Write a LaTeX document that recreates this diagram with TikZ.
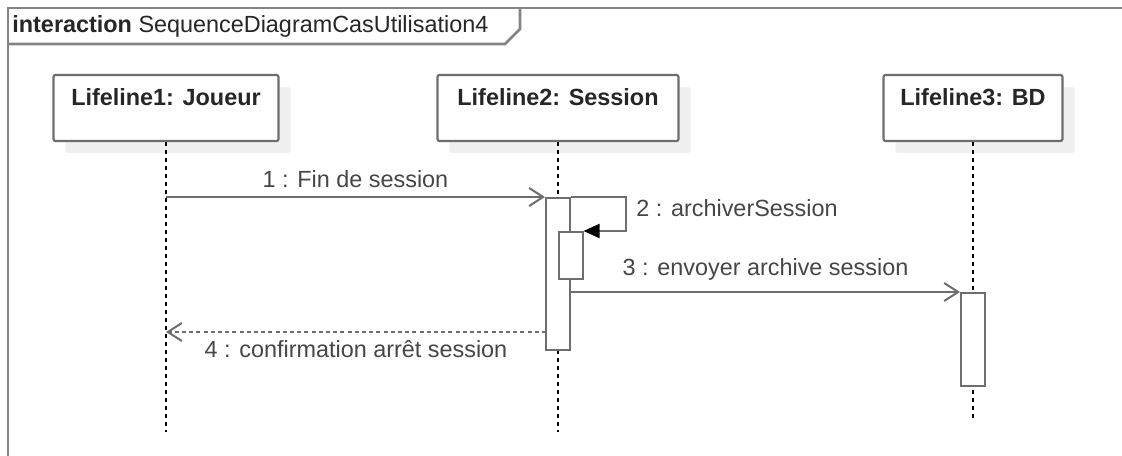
\documentclass[tikz,border=0pt]{standalone}
\usepackage{fontspec}
\setmainfont{Liberation Sans}
\usepackage{tikz}
\usetikzlibrary{arrows.meta,positioning,shadows,calc}
\definecolor{linegray}{RGB}{110,110,110}
\definecolor{textgray}{RGB}{70,70,70}
\tikzset{
  seq frame/.style={draw=linegray!85,line width=1.3pt},
  seq head/.style={rectangle,draw=linegray,line width=1.1pt,rounded corners=1pt,fill=white,inner sep=0pt,
    minimum height=33pt,text height=15pt,text depth=18pt,font=\bfseries\fontsize{11.7}{14}\selectfont,text=black!85,
    drop shadow={shadow xshift=6pt,shadow yshift=-6pt,fill=black!6,opacity=1}},
  seq bar/.style={rectangle,draw=linegray,line width=1pt,fill=white,inner sep=0pt,minimum width=12pt},
  seq life/.style={draw=black,line width=0.9pt,dash pattern=on 2pt off 2pt},
  seq msg/.style={draw=linegray,line width=1pt,-{Straight Barb[length=7pt,width=9pt,line width=1pt]}},
  seq reply/.style={seq msg,dash pattern=on 2pt off 1.6pt},
  seq self/.style={draw=linegray,line width=1pt,-{Triangle[length=8pt,width=7pt,fill=black,color=black]}},
  seq label/.style={font=\fontsize{11.7}{14}\selectfont,text=textgray,inner sep=0pt}
}

\begin{document}
\begin{tikzpicture}[x=0.5pt,y=-0.5pt]
  \fill[white] (0,0) rectangle (1122,455);
  \clip (0,0) rectangle (1122,455);
  % frame and tab
  \draw[seq frame] (8,8) rectangle (1140,470);
  \draw[seq frame] (8,44) -- (505,44) -- (520,29) -- (520,8);
  \node[seq label,anchor=west,text=black!85] (title) at (12,26) {\textbf{interaction} SequenceDiagramCasUtilisation4};
  % lifelines
  \node[seq head,minimum width=112.5pt] (joueur) at (166,108) {Lifeline1: Joueur};
  \node[seq head,minimum width=120.5pt] (session) at (558,108) {Lifeline2: Session};
  \node[seq head,minimum width=89.5pt] (bd) at (973,108) {Lifeline3: BD};
  \foreach \who/\stop in {joueur/432, session/432, bd/422}{
    \coordinate (\who end) at (\who |- 0,\stop);
    \draw[seq life] (\who) -- (\who end);
  }
  % activations
  \node[seq bar,minimum height=76pt,anchor=north] (act s) at (558,197) {};
  \node[seq bar,minimum height=23.5pt,anchor=north] (act sn) at (570.5,231) {};
  \node[seq bar,minimum height=46.5pt,anchor=north] (act b) at (973,292) {};
  % messages
  \draw[seq msg] (joueur |- act s.north) -- (act s.north west)
    node[seq label,midway,above=4pt] (m1) {1 : Fin de session};
  \draw[seq self] (act s.north east) -- ++(55,0) |- (act sn.north east);
  \node[seq label,anchor=west] (m2) at (636,208) {2 : archiverSession};
  \draw[seq msg] (act s.east |- act b.north) -- (act b.north west)
    node[seq label,midway,above=5.5pt] (m3) {3 : envoyer archive session};
  \coordinate (back) at (546,332);
  \draw[seq reply] (back) -- (joueur |- back)
    node[seq label,midway,below=3.5pt] (m4) {4 : confirmation arrêt session};
\end{tikzpicture}
\end{document}
